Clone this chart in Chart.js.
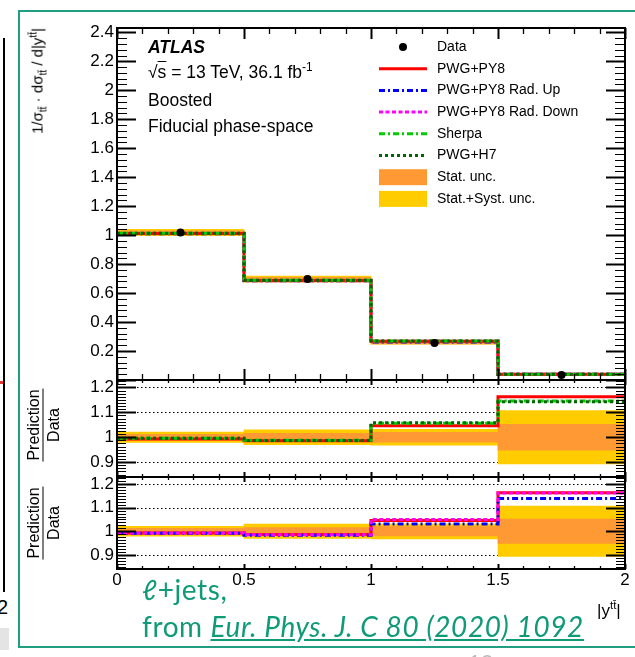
<!DOCTYPE html>
<html>
<head>
<meta charset="utf-8">
<script src="https://cdn.jsdelivr.net/npm/chart.js@4.4.1/dist/chart.umd.min.js"></script>
<style>
  html, body { margin: 0; padding: 0; background: #fff; }
  #page { position: relative; width: 635px; height: 657px; overflow: hidden; background: #fff;
          font-family: "Liberation Sans", Arial, sans-serif; color: #000; }
  canvas { position: absolute; left: 0; }
  .abs { position: absolute; white-space: nowrap; }
  #slideBox { position: absolute; left: 18px; top: 10px; width: 640px; height: 638px;
              border: 2px solid #1f9e82; border-right: none; box-sizing: border-box; }
  .atlas { font-size: 17.5px; line-height: 17.5px; }
  .frac { position: absolute; display: flex; flex-direction: column; align-items: center;
          font-size: 16px; line-height: 17px; transform: translate(-50%, -50%) rotate(-90deg); white-space: nowrap; }
  .frac .num { border-bottom: 1px solid #000; padding: 0 1px 1px 1px; }
  .frac .den { padding-top: 1px; }
  .green { color: #0f9a78; font-family: Lato, "Noto Sans", sans-serif; font-size: 28px; line-height: 28px; letter-spacing: 0.6px; }
  sub, sup { font-size: 68%; line-height: 0; }
</style>
</head>
<body>
<div id="page">
  <!-- edge of the neighbouring slide element -->
  <div class="abs" style="left:3px;top:38px;width:2px;height:554px;background:#000"></div>
  <div class="abs" style="left:0;top:381px;width:3px;height:3px;background:#e33"></div>
  <div class="abs" style="left:-3px;top:597px;font-size:20px;line-height:20px;">2</div>
  <div class="abs" style="left:0;top:628px;width:9px;height:22px;background:#e4e4e4"></div>

  <div id="slideBox"></div>

  <canvas id="cMain" width="635" height="385" style="top:0"></canvas>
  <canvas id="cR1" width="635" height="117" style="top:370px"></canvas>
  <canvas id="cR2" width="635" height="190" style="top:467px"></canvas>

  <!-- axis titles -->
  <div class="abs" style="left:37px;top:28px;font-size:15px;line-height:17px;transform-origin:100% 50%;transform:translate(-100%,-50%) rotate(-90deg);">1/&sigma;<sub>t&#x0074;&#x0304;</sub> &middot; d&sigma;<sub>t&#x0074;&#x0304;</sub> / d|y<sup>t&#x0074;&#x0304;</sup>|</div>
  <div class="frac" style="left:43px;top:425px;"><span class="num">Prediction</span><span class="den">Data</span></div>
  <div class="frac" style="left:43px;top:523px;"><span class="num">Prediction</span><span class="den">Data</span></div>
  <div class="abs" style="left:597px;top:602px;font-size:17px;line-height:17px;">|y<sup>t&#x0074;&#x0304;</sup>|</div>

  <!-- plot annotations -->
  <div class="abs atlas" style="left:148px;top:39px;font-weight:bold;font-style:italic;">ATLAS</div>
  <div class="abs atlas" style="left:148px;top:64px;">&radic;<span style="text-decoration:overline">s</span> = 13 TeV, 36.1 fb<sup>-1</sup></div>
  <div class="abs atlas" style="left:148px;top:92px;">Boosted</div>
  <div class="abs atlas" style="left:148px;top:118px;">Fiducial phase-space</div>

  <!-- slide caption -->
  <div class="abs green" style="left:142px;top:575px;">&#x2113;+jets,</div>
  <div class="abs green" style="left:142px;top:612px;">from <span style="font-style:italic;text-decoration:underline;">Eur. Phys. J. C 80 (2020) 1092</span></div>
  <div class="abs" style="left:468px;top:651px;font-size:22px;line-height:22px;color:#bbb;font-family:Lato,sans-serif;">10</div>
</div>

<script>
// |y(ttbar)| bins
const binEdges = [0, 0.5, 1, 1.5, 2];
const binCenters = [0.25, 0.75, 1.25, 1.75];

// normalised differential cross-section
const dataValues    = [1.018, 0.697, 0.255, 0.034];
const pwgPy8Values  = [1.011, 0.687, 0.267, 0.040];
const radUpValues   = [1.010, 0.686, 0.263, 0.039];
const radDownValues = [1.011, 0.686, 0.268, 0.040];
const sherpaValues  = [1.013, 0.688, 0.269, 0.039];
const h7Values      = [1.013, 0.688, 0.270, 0.039];

// relative uncertainties of the measurement
const statRelUnc  = [0.012, 0.016, 0.020, 0.052];
const totalRelUnc = [0.021, 0.030, 0.032, 0.107];

// prediction / data
const pwgPy8Ratio  = [0.993, 0.986, 1.046, 1.163];
const sherpaRatio  = [0.996, 0.988, 1.056, 1.146];
const h7Ratio      = [0.996, 0.987, 1.058, 1.143];
const radUpRatio   = [0.992, 0.983, 1.031, 1.139];
const radDownRatio = [0.993, 0.985, 1.050, 1.162];

// axis ticks
const xTickValues = [0, 0.5, 1, 1.5, 2];
const mainYTickValues = [0.2, 0.4, 0.6, 0.8, 1, 1.2, 1.4, 1.6, 1.8, 2, 2.2, 2.4];
const ratioYTickValues = [0.9, 1, 1.1, 1.2];
const ratioRefLines = [0.9, 1, 1.1, 1.2];

const legendLabels = ['Data', 'PWG+PY8', 'PWG+PY8 Rad. Up', 'PWG+PY8 Rad. Down',
                      'Sherpa', 'PWG+H7', 'Stat. unc.', 'Stat.+Syst. unc.'];

// ---- styles ----
const FONT = '"Liberation Sans", Arial, sans-serif';
Chart.defaults.font.family = FONT;
Chart.defaults.color = '#000';

const lineStyle = {
  'PWG+PY8':           { color: '#ff0000', dash: [],           order: 5 },
  'PWG+PY8 Rad. Up':   { color: '#0000ff', dash: [6, 3, 2, 3], order: 4 },
  'PWG+PY8 Rad. Down': { color: '#ff00ff', dash: [4, 2.5],     order: 3 },
  'Sherpa':            { color: '#00cc00', dash: [6, 3, 2, 3], order: 2 },
  'PWG+H7':            { color: '#006600', dash: [3, 3],       order: 1 }
};
const STAT_COLOR = '#ff9933';
const TOTAL_COLOR = '#ffcc00';
const fmt = v => String(Math.round(v * 1000) / 1000);

// ---- dataset builders ----
function stepLine(label, vals, order) {
  const s = lineStyle[label];
  return {
    type: 'line', label, order: order === undefined ? s.order : order,
    data: binEdges.map((x, i) => ({ x, y: vals[Math.min(i, vals.length - 1)] })),
    stepped: 'before', borderColor: s.color, borderDash: s.dash, borderWidth: 3,
    pointRadius: 0, fill: false, tension: 0
  };
}
function band(label, centers, rel, color, order) {
  return {
    type: 'bar', label, order, grouped: false,
    data: binCenters.map((x, i) => ({ x, y: [centers[i] * (1 - rel[i]), centers[i] * (1 + rel[i])] })),
    backgroundColor: color, borderWidth: 0, barPercentage: 1, categoryPercentage: 1
  };
}
function points(label, vals) {
  return {
    type: 'scatter', label, order: 0,
    data: binCenters.map((x, i) => ({ x, y: vals[i] })),
    pointRadius: 4, pointHoverRadius: 4, backgroundColor: '#000', borderWidth: 0, showLine: false
  };
}

// ---- ROOT-like frame with inward ticks ----
const rootFrame = {
  id: 'rootFrame',
  beforeDatasetsDraw(chart, args, o) {
    if (!o.refLines) return;
    const { ctx, chartArea: a, scales: { y } } = chart;
    ctx.save();
    ctx.strokeStyle = '#000'; ctx.lineWidth = 1; ctx.setLineDash([1.5, 2.5]);
    o.refLines.forEach(v => {
      const py = Math.round(y.getPixelForValue(v)) + 0.5;
      ctx.beginPath(); ctx.moveTo(a.left, py); ctx.lineTo(a.right, py); ctx.stroke();
    });
    ctx.restore();
  },
  afterDatasetsDraw(chart, args, o) {
    const { ctx, chartArea: a, scales: { x, y } } = chart;
    const marks = (min, max, minor, major) => {
      const out = [];
      const n0 = Math.ceil(min / minor - 1e-6), n1 = Math.floor(max / minor + 1e-6);
      for (let i = n0; i <= n1; i++) {
        const v = i * minor;
        out.push([v, Math.abs(v / major - Math.round(v / major)) < 1e-6]);
      }
      return out;
    };
    const seg = (x0, y0, x1, y1) => { ctx.beginPath(); ctx.moveTo(x0, y0); ctx.lineTo(x1, y1); ctx.stroke(); };
    ctx.save();
    ctx.strokeStyle = '#000'; ctx.setLineDash([]);
    marks(y.min, y.max, o.yMinor, o.yMajor).forEach(([v, m]) => {
      const py = Math.round(y.getPixelForValue(v)) + 0.5, L = m ? o.yMajorLen : o.yMinorLen;
      ctx.lineWidth = m ? 2 : 1;
      seg(a.left, py, a.left + L, py); seg(a.right, py, a.right - L, py);
    });
    marks(x.min, x.max, o.xMinor, o.xMajor).forEach(([v, m]) => {
      const px = Math.round(x.getPixelForValue(v)) + 0.5, L = m ? o.xMajorLen : o.xMinorLen;
      ctx.lineWidth = m ? 2 : 1.3;
      seg(px, a.bottom, px, a.bottom - L); seg(px, a.top, px, a.top + L);
    });
    ctx.lineWidth = 2;
    ctx.strokeRect(a.left, a.top, a.right - a.left, a.bottom - a.top);
    ctx.restore();
  }
};

// ---- legend drawn inside the main frame ----
const rootLegend = {
  id: 'rootLegend',
  afterDraw(chart, args, o) {
    if (!o.labels) return;
    const ctx = chart.ctx;
    ctx.save();
    ctx.font = '14px ' + FONT; ctx.textBaseline = 'middle';
    o.labels.forEach((label, i) => {
      const ds = chart.data.datasets.find(d => d.label === label);
      const yy = o.top + i * o.step;
      if (ds.type === 'scatter') {
        ctx.fillStyle = ds.backgroundColor;
        ctx.beginPath(); ctx.arc((o.x0 + o.x1) / 2, yy, ds.pointRadius, 0, 2 * Math.PI); ctx.fill();
      } else if (ds.type === 'line') {
        ctx.strokeStyle = ds.borderColor; ctx.lineWidth = ds.borderWidth; ctx.setLineDash(ds.borderDash);
        ctx.beginPath(); ctx.moveTo(o.x0, yy); ctx.lineTo(o.x1, yy); ctx.stroke();
        ctx.setLineDash([]);
      } else {
        ctx.fillStyle = ds.backgroundColor;
        ctx.fillRect(o.x0, yy - 8, o.x1 - o.x0, 16);
      }
      ctx.fillStyle = '#000';
      ctx.fillText(label, o.textX, yy);
    });
    ctx.restore();
  }
};

// ---- shared axis settings ----
function xAxis(showLabels) {
  return {
    type: 'linear', min: 0, max: 2, offset: false, display: showLabels,
    grid: { display: false, drawTicks: false, offset: false }, border: { display: false },
    afterBuildTicks: s => { s.ticks = xTickValues.map(v => ({ value: v })); },
    afterFit: s => { if (showLabels) s.height = 30; s.paddingLeft = 0; s.paddingRight = 0; },
    ticks: { font: { size: 17 }, padding: 1, maxRotation: 0, autoSkip: false, callback: fmt }
  };
}
function yAxis(min, max, tickValues) {
  return {
    type: 'linear', min, max, beginAtZero: false,
    grid: { display: false, drawTicks: false }, border: { display: false },
    afterBuildTicks: s => { s.ticks = tickValues.map(v => ({ value: v })); },
    afterFit: s => { s.width = 117; s.paddingTop = 0; s.paddingBottom = 0; },
    ticks: { font: { size: 17 }, padding: 3, autoSkip: false, callback: fmt }
  };
}
function makeChart(id, datasets, yMin, yMax, yTicks, padding, showX, frameOpts, legendOpts) {
  return new Chart(document.getElementById(id), {
    type: 'bar',
    data: { datasets },
    options: {
      responsive: false, animation: false, devicePixelRatio: 1,
      layout: { padding },
      scales: { x: xAxis(showX), y: yAxis(yMin, yMax, yTicks) },
      plugins: { legend: { display: false }, tooltip: { enabled: false },
                 rootFrame: frameOpts, rootLegend: legendOpts || {} },
      events: []
    },
    plugins: [rootFrame, rootLegend]
  });
}

// ---- main panel (radiation variations sit under the nominal line) ----
makeChart('cMain', [
  points('Data', dataValues),
  stepLine('PWG+H7', h7Values, 1),
  stepLine('Sherpa', sherpaValues, 2),
  stepLine('PWG+PY8', pwgPy8Values, 3),
  stepLine('PWG+PY8 Rad. Down', radDownValues, 4),
  stepLine('PWG+PY8 Rad. Up', radUpValues, 5),
  band('Stat. unc.', dataValues, statRelUnc, STAT_COLOR, 6),
  band('Stat.+Syst. unc.', dataValues, totalRelUnc, TOTAL_COLOR, 7)
], 0, 2.43, mainYTickValues, { top: 28, right: 10, bottom: 5, left: 0 }, false,
  { xMajor: 0.5, xMinor: 0.1, xMajorLen: 11, xMinorLen: 6, yMajor: 0.2, yMinor: 0.04, yMajorLen: 19, yMinorLen: 10 },
  { labels: legendLabels, top: 47, step: 21.7, x0: 379, x1: 427, textX: 437 });

const ones = binCenters.map(() => 1);
const ratioFrame = { xMajor: 0.5, xMinor: 0.1, xMajorLen: 5, xMinorLen: 3,
                     yMajor: 0.1, yMinor: 0.0125, yMajorLen: 19, yMinorLen: 9, refLines: ratioRefLines };

// ---- ratio panel: generators ----
makeChart('cR1', [
  stepLine('PWG+H7', h7Ratio),
  stepLine('Sherpa', sherpaRatio),
  stepLine('PWG+PY8', pwgPy8Ratio),
  band('Stat. unc.', ones, statRelUnc, STAT_COLOR, 6),
  band('Stat.+Syst. unc.', ones, totalRelUnc, TOTAL_COLOR, 7)
], 0.84, 1.23, ratioYTickValues, { top: 10, right: 10, bottom: 10, left: 0 }, false, ratioFrame);

// ---- ratio panel: radiation variations ----
makeChart('cR2', [
  stepLine('PWG+PY8 Rad. Down', radDownRatio),
  stepLine('PWG+PY8 Rad. Up', radUpRatio),
  stepLine('PWG+PY8', pwgPy8Ratio),
  band('Stat. unc.', ones, statRelUnc, STAT_COLOR, 6),
  band('Stat.+Syst. unc.', ones, totalRelUnc, TOTAL_COLOR, 7)
], 0.84, 1.23, ratioYTickValues, { top: 10, right: 10, bottom: 58, left: 0 }, true, ratioFrame);
</script>
</body>
</html>
